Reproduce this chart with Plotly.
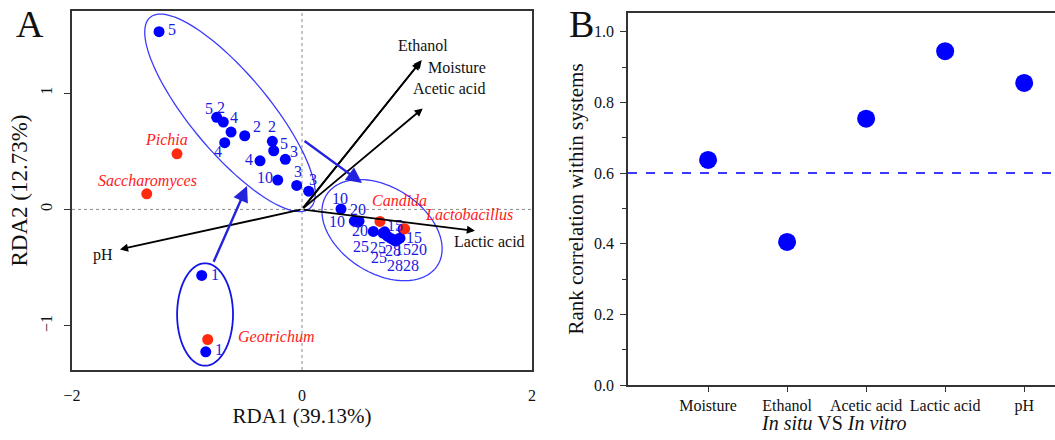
import numpy as np
import plotly.graph_objects as go

# ---------------- Panel A data ----------------
sample_day = ["5", "5", "2", "4", "2", "4", "2", "5", "3", "4", "10", "3", "3",
              "1", "1",
              "10", "10", "20", "20", "25", "15", "25", "25", "28", "28", "28", "15", "20", "15"]
sample_x = [-1.243, -0.742, -0.684, -0.617, -0.498, -0.672, -0.258, -0.246, -0.145, -0.365, -0.211, -0.046, 0.058,
            -0.872, -0.837,
            0.339, 0.455, 0.496, 0.487, 0.620, 0.719, 0.704, 0.742, 0.774, 0.800, 0.817, 0.835, 0.852, 0.878]
sample_y = [1.527, 0.791, 0.751, 0.665, 0.633, 0.573, 0.585, 0.504, 0.430, 0.418, 0.252, 0.206, 0.157,
            -0.567, -1.224,
            0.003, -0.101, -0.101, -0.109, -0.189, -0.193, -0.204, -0.230, -0.249, -0.264, -0.272, -0.255, -0.247, -0.169]
# label offsets (pixels, screen: dx right, dy down)
label_dx = [13, -8, -2, 3, 12, -7, 0, 10, 9, -11, -13, 1, 4,
            13, 13,
            -1, -17, -1, 2, -12, 10, -5, -8, 2, 1, 15, 5, 19, 11]
label_dy = [-2, -9, -15, -15, -9, 9, -15, -7, -8, -1, -3, -14, -12,
            -1, -2,
            -11, 0, -12, 8, 15, -6, 14, 21, 12, 25, 24, 10, 11, 8]

species_names = ["Pichia", "Saccharomyces", "Candida", "Lactobacillus", "Geotrichum"]
species_x = [-1.087, -1.350, 0.678, 0.893, -0.820]
species_y = [0.478, 0.134, -0.103, -0.167, -1.118]
species_dx = [-11, 1, 20, 64, 68]
species_dy = [-14, -13, -21, -14, -3]

env_names = ["Ethanol", "Moisture", "Acetic acid", "Lactic acid", "pH"]
env_x = [1.041, 1.028, 1.050, 1.504, -1.583]
env_y = [1.283, 1.268, 0.868, -0.184, -0.344]
env_dx = [1, 37, 26, 15, -17]
env_dy = [-15, 6, -20, 11, 6]

# group ellipses: centre, semi-axes, rotation (deg)
ell_cx = [-0.626, 0.696, -0.843]
ell_cy = [0.830, -0.178, -0.903]
ell_a = [1.075, 0.57, 0.44]
ell_b = [0.338, 0.37, 0.243]
ell_ang = [-49.7, -31.7, 90.0]
ell_width = [1.3, 1.3, 1.8]
ell_color = ["#3b3bff", "#3b3bff", "#1414e6"]

# succession arrows between groups
grp_x0 = [-0.774, 0.009]
grp_y0 = [-0.463, 0.597]
grp_x1 = [-0.478, 0.522]
grp_y1 = [0.201, 0.227]

# ---------------- Panel B data ----------------
cmp_vars = ["Moisture", "Ethanol", "Acetic acid", "Lactic acid", "pH"]
cmp_rho = [0.637, 0.405, 0.754, 0.945, 0.855]
threshold = 0.6

SERIF = "Liberation Serif, Times New Roman, serif"
BLUE = "#0000ff"
TXTBLUE = "#1a1ae0"
RED = "#ff2a10"

fig = go.Figure()

# Panel A points
fig.add_trace(go.Scatter(x=sample_x, y=sample_y, mode="markers",
                         marker=dict(color=BLUE, size=11), showlegend=False,
                         xaxis="x", yaxis="y", hoverinfo="skip"))
fig.add_trace(go.Scatter(x=species_x, y=species_y, mode="markers",
                         marker=dict(color=RED, size=11), showlegend=False,
                         xaxis="x", yaxis="y", hoverinfo="skip"))

# Panel B points
fig.add_trace(go.Scatter(x=cmp_vars, y=cmp_rho, mode="markers",
                         marker=dict(color=BLUE, size=18), showlegend=False,
                         xaxis="x2", yaxis="y2", hoverinfo="skip"))

shapes = []
# dotted zero lines
shapes.append(dict(type="line", xref="x", yref="y domain", x0=0, x1=0, y0=0, y1=1,
                   line=dict(color="#8a8a8a", width=1, dash="dot"), layer="below"))
shapes.append(dict(type="line", xref="x domain", yref="y", x0=0, x1=1, y0=0, y1=0,
                   line=dict(color="#8a8a8a", width=1, dash="dot"), layer="below"))
# ellipses
t = np.linspace(0, 2 * np.pi, 121)
for cx, cy, a, b, ang, w, c in zip(ell_cx, ell_cy, ell_a, ell_b, ell_ang, ell_width, ell_color):
    th = np.deg2rad(ang)
    ex = cx + a * np.cos(t) * np.cos(th) - b * np.sin(t) * np.sin(th)
    ey = cy + a * np.cos(t) * np.sin(th) + b * np.sin(t) * np.cos(th)
    path = "M " + " L ".join(f"{xx:.4f},{yy:.4f}" for xx, yy in zip(ex, ey)) + " Z"
    shapes.append(dict(type="path", xref="x", yref="y", path=path,
                       line=dict(color=c, width=w)))
# threshold line panel B
shapes.append(dict(type="line", xref="x2 domain", yref="y2", x0=0, x1=1, y0=threshold, y1=threshold,
                   line=dict(color="#3a3aff", width=2, dash="dash")))

ann = []
# sample labels
for sx, sy, lab, dx, dy in zip(sample_x, sample_y, sample_day, label_dx, label_dy):
    ann.append(dict(x=sx, y=sy, xref="x", yref="y", text=lab, showarrow=False,
                    xanchor="center", yanchor="middle", xshift=dx, yshift=-dy,
                    font=dict(family=SERIF, size=16, color=TXTBLUE)))
# species labels
for sx, sy, lab, dx, dy in zip(species_x, species_y, species_names, species_dx, species_dy):
    ann.append(dict(x=sx, y=sy, xref="x", yref="y", text=f"<i>{lab}</i>", showarrow=False,
                    xanchor="center", yanchor="middle", xshift=dx, yshift=-dy,
                    font=dict(family=SERIF, size=16, color="#ff1a1a")))
# environmental arrows
for ex_, ey_, lab, dx, dy in zip(env_x, env_y, env_names, env_dx, env_dy):
    ann.append(dict(x=ex_, y=ey_, ax=0, ay=0, xref="x", yref="y", axref="x", ayref="y",
                    text="", showarrow=True, arrowhead=2, arrowsize=0.9, arrowwidth=1.8,
                    arrowcolor="#000000"))
    ann.append(dict(x=ex_, y=ey_, xref="x", yref="y", text=lab, showarrow=False,
                    xanchor="center", yanchor="middle", xshift=dx, yshift=-dy,
                    font=dict(family=SERIF, size=16, color="#111111")))
# group succession arrows
for x0, y0, x1, y1 in zip(grp_x0, grp_y0, grp_x1, grp_y1):
    ann.append(dict(x=x1, y=y1, ax=x0, ay=y0, xref="x", yref="y", axref="x", ayref="y",
                    text="", showarrow=True, arrowhead=2, arrowsize=1.3, arrowwidth=2.4,
                    arrowcolor="#2323dd"))
# panel letters
ann.append(dict(x=30 / 1055, y=1 - 24 / 440, xref="paper", yref="paper", text="A", showarrow=False,
                xanchor="center", yanchor="middle", font=dict(family=SERIF, size=38, color="#111")))
ann.append(dict(x=581 / 1055, y=1 - 24 / 440, xref="paper", yref="paper", text="B", showarrow=False,
                xanchor="center", yanchor="middle", font=dict(family=SERIF, size=38, color="#111")))
# panel B x title
ann.append(dict(x=833 / 1055, y=1 - 423 / 440, xref="paper", yref="paper",
                text="<i>In situ</i> VS <i>In vitro</i>", showarrow=False,
                xanchor="center", yanchor="middle", font=dict(family=SERIF, size=20, color="#111")))

axis_line = "#333333"
fig.update_layout(
    width=1055, height=440,
    margin=dict(l=0, r=0, t=0, b=0, pad=0, autoexpand=False),
    paper_bgcolor="white", plot_bgcolor="white",
    font=dict(family=SERIF, color="#111"),
    shapes=shapes, annotations=ann,
    xaxis=dict(domain=[72 / 1055, 532 / 1055], range=[-2, 2], anchor="y", automargin=False,
               showgrid=False, zeroline=False, showline=True, mirror=True,
               linecolor=axis_line, linewidth=1.6,
               tickvals=[-2, 0, 2], ticktext=["\u22122", "0", "2"], ticks="",
               ticklabelstandoff=10, tickfont=dict(family=SERIF, size=16),
               title=dict(text="RDA1 (39.13%)", font=dict(family=SERIF, size=21), standoff=3)),
    yaxis=dict(domain=[(440 - 370) / 440, (440 - 11) / 440], range=[-1.38, 1.705], anchor="x",
               automargin=False,
               showgrid=False, zeroline=False, showline=True, mirror=True,
               linecolor=axis_line, linewidth=1.6,
               tickvals=[-1, 0, 1], ticktext=["\u22121", "0", "1"], ticks="outside", ticklen=6,
               tickcolor=axis_line, tickangle=-90, ticklabelstandoff=6,
               tickfont=dict(family=SERIF, size=16),
               title=dict(text="RDA2 (12.73%)", font=dict(family=SERIF, size=23), standoff=4)),
    xaxis2=dict(domain=[628 / 1055, 1.0], range=[-1.013, 4.39], anchor="y2", automargin=False,
                showgrid=False, zeroline=False, showline=True, mirror=True,
                linecolor=axis_line, linewidth=1.6, type="category",
                ticks="outside", ticklen=5, tickcolor=axis_line,
                tickfont=dict(family=SERIF, size=16), ticklabelstandoff=0),
    yaxis2=dict(domain=[(440 - 385) / 440, (440 - 13) / 440], range=[0, 1.053], anchor="x2",
                automargin=False,
                showgrid=False, zeroline=False, showline=True, mirror=False,
                linecolor=axis_line, linewidth=1.6,
                tickvals=[0, 0.2, 0.4, 0.6, 0.8, 1.0], tickformat=".1f",
                ticks="outside", ticklen=6, tickcolor=axis_line,
                minor=dict(tickvals=[0.1, 0.3, 0.5, 0.7, 0.9], ticks="outside", ticklen=4,
                           tickcolor=axis_line),
                tickfont=dict(family=SERIF, size=16), ticklabelstandoff=3,
                title=dict(text="Rank correlation within systems", font=dict(family=SERIF, size=21),
                           standoff=5)),
)

fig.write_html("out.html", config={"displayModeBar": False},
               post_script="document.body.style.margin='0';document.body.style.overflow='hidden';")
